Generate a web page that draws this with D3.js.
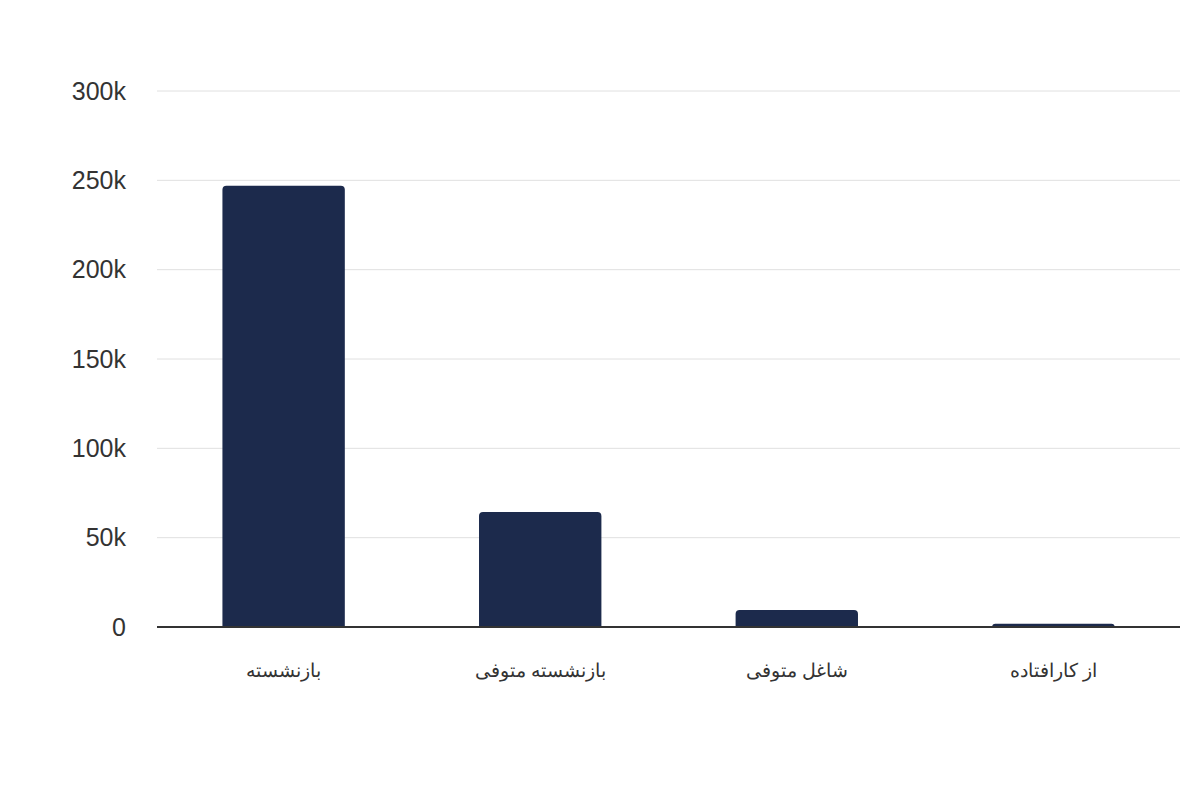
<!DOCTYPE html>
<html>
<head>
<meta charset="utf-8">
<script src="https://cdn.jsdelivr.net/npm/d3@7"></script>
<style>
  html, body { margin: 0; padding: 0; background: #fff; }
  svg { display: block; font-family: "Liberation Sans", Arial, sans-serif; }
</style>
</head>
<body>
<div id="chart"></div>
<script>
const width = 1200;
const height = 800;
const margin = { top: 91, right: 20, bottom: 173, left: 157 };

const categories = ["بازنشسته", "بازنشسته متوفی", "شاغل متوفی", "از کارافتاده"];
const values = [247000, 64400, 9500, 1800];
const yTicks = [0, 50000, 100000, 150000, 200000, 250000, 300000];
const yTickLabels = ["0", "50k", "100k", "150k", "200k", "250k", "300k"];

const svg = d3.select("#chart")
  .append("svg")
  .attr("width", width)
  .attr("height", height);

const plotWidth = width - margin.left - margin.right;
const plotHeight = height - margin.top - margin.bottom;

const plot = svg.append("g").attr("transform", `translate(${margin.left},${margin.top})`);

const x = d3.scaleBand().domain(categories).range([0, plotWidth]).paddingInner(0.523).paddingOuter(0.255);
const y = d3.scaleLinear().domain([0, 300000]).range([plotHeight, 0]);

// gridlines
plot.append("g")
  .selectAll("line")
  .data(yTicks.filter((d) => d > 0))
  .join("line")
  .attr("x1", 0)
  .attr("x2", plotWidth)
  .attr("y1", (d) => y(d))
  .attr("y2", (d) => y(d))
  .attr("stroke", "#e0e0e0")
  .attr("stroke-width", 1);

// y axis labels
const yAxis = plot.append("g")
  .call(d3.axisLeft(y).tickValues(yTicks).tickSize(0).tickPadding(31)
    .tickFormat((d, i) => yTickLabels[i]));
yAxis.select(".domain").remove();
yAxis.selectAll("text")
  .attr("font-size", "25px")
  .attr("fill", "#333")
  .attr("font-family", "Liberation Sans, Arial, sans-serif");

// bars with rounded top corners
const r = 4;
plot.append("g")
  .selectAll("path")
  .data(values)
  .join("path")
  .attr("fill", "#1c2a4c")
  .attr("d", (d, i) => {
    const x0 = x(categories[i]);
    const w = x.bandwidth();
    const y0 = y(d);
    const y1 = y(0);
    const rr = Math.min(r, (y1 - y0));
    return `M${x0},${y1}V${y0 + rr}Q${x0},${y0} ${x0 + rr},${y0}H${x0 + w - rr}Q${x0 + w},${y0} ${x0 + w},${y0 + rr}V${y1}Z`;
  });

// baseline
plot.append("line")
  .attr("x1", 0)
  .attr("x2", plotWidth)
  .attr("y1", y(0))
  .attr("y2", y(0))
  .attr("stroke", "#333")
  .attr("stroke-width", 2);

// x axis labels
const xAxis = plot.append("g")
  .attr("transform", `translate(0,${plotHeight})`)
  .call(d3.axisBottom(x).tickSize(0).tickPadding(37));
xAxis.select(".domain").remove();
xAxis.selectAll("text")
  .attr("font-size", "19px")
  .attr("fill", "#333")
  .attr("direction", "rtl")
  .attr("text-anchor", "middle")
  .attr("font-family", "Liberation Sans, Arial, sans-serif");
</script>
</body>
</html>
